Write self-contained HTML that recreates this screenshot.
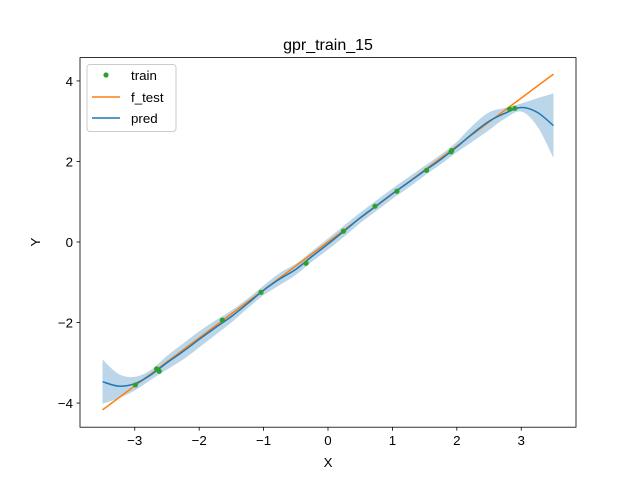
<!DOCTYPE html>
<html><head><meta charset="utf-8"><style>
body{margin:0;background:#fff;}
svg{display:block;font-family:"Liberation Sans","DejaVu Sans",sans-serif;}
</style></head><body>
<svg id="chart" width="640" height="480">
<rect x="0" y="0" width="640" height="480" fill="#fff"/>
<g id="plot"></g>
<rect x="80" y="57.6" width="496" height="369.6" fill="none" stroke="#000" stroke-width="0.8"/>
<g id="ticks"></g>
<text x="328" y="50" text-anchor="middle" font-size="16">gpr_train_15</text>
<text x="328" y="467" text-anchor="middle" font-size="13.3">X</text>
<text x="40" y="242" text-anchor="middle" font-size="13.3" transform="rotate(-90 40 242)">Y</text>
<g>
<rect x="87" y="64.5" width="89" height="67" rx="3" fill="#fff" fill-opacity="0.8" stroke="#ccc" stroke-width="1"/>
<g><circle cx="106" cy="75" r="2.6" fill="#2ca02c"/><text x="131" y="80" font-size="13.3">train</text></g>
<g><line x1="92" y1="97" x2="120" y2="97" stroke="#ff7f0e" stroke-width="1.5"/><text x="131" y="102" font-size="13.3">f_test</text></g>
<g><line x1="92" y1="118" x2="120" y2="118" stroke="#1f77b4" stroke-width="1.5"/><text x="131" y="123" font-size="13.3">pred</text></g>
</g>
</svg>
<script>
const gridX = [-3.5,-3.25,-3.0,-2.75,-2.5,-2.25,-2,-1.75,-1.5,-1.25,-1,-0.75,-0.5,-0.25,0,0.25,0.5,0.75,1,1.25,1.5,1.75,2,2.25,2.5,2.75,3,3.25,3.5];
const predY = [-3.47,-3.58,-3.52,-3.3,-3.0,-2.72,-2.42,-2.13,-1.85,-1.53,-1.2,-0.92,-0.68,-0.36,-0.05,0.27,0.6,0.9,1.2,1.48,1.77,2.05,2.36,2.7,3.0,3.2,3.34,3.22,2.89];
const predStd = [0.55,0.3,0.17,0.12,0.17,0.2,0.2,0.18,0.15,0.12,0.12,0.15,0.14,0.13,0.14,0.14,0.13,0.13,0.13,0.13,0.12,0.12,0.13,0.2,0.22,0.13,0.1,0.35,0.8];
const testX = [-3.5,3.5];
const testY = [-4.17,4.17];
const trainX = [-2.99,-2.66,-2.62,-1.64,-1.04,-0.34,0.24,0.73,1.07,1.53,1.91,1.92,2.82,2.90];
const trainY = [-3.55,-3.15,-3.21,-1.94,-1.25,-0.53,0.27,0.89,1.26,1.78,2.24,2.27,3.30,3.32];
const xTicks = [-3,-2,-1,0,1,2,3];
const yTicks = [-4,-2,0,2,4];
const xMin=-3.85,xMax=3.85,yMin=-4.6,yMax=4.58;
const L=80,R=576,T=57.6,B=427.2;
const sx=v=>L+(v-xMin)/(xMax-xMin)*(R-L);
const sy=v=>B-(v-yMin)/(yMax-yMin)*(B-T);
const NS="http://www.w3.org/2000/svg";
const plot=document.getElementById('plot'), ticks=document.getElementById('ticks');
function mk(tag,attrs,parent){const e=document.createElementNS(NS,tag);for(const k in attrs)e.setAttribute(k,attrs[k]);parent.appendChild(e);return e;}
function smooth(pts,start){let d=start?'M'+pts[0][0]+','+pts[0][1]:'L'+pts[0][0]+','+pts[0][1];
for(let i=0;i<pts.length-1;i++){const p0=pts[Math.max(i-1,0)],p1=pts[i],p2=pts[i+1],p3=pts[Math.min(i+2,pts.length-1)];
const c1=[p1[0]+(p2[0]-p0[0])/6,p1[1]+(p2[1]-p0[1])/6],c2=[p2[0]-(p3[0]-p1[0])/6,p2[1]-(p3[1]-p1[1])/6];
d+=' C'+c1[0]+','+c1[1]+' '+c2[0]+','+c2[1]+' '+p2[0]+','+p2[1];}return d;}
const upP=gridX.map((x,i)=>[sx(x),sy(predY[i]+predStd[i])]);
const dnP=gridX.map((x,i)=>[sx(x),sy(predY[i]-predStd[i])]).reverse();
const band=mk('path',{d:smooth(upP,true)+' '+smooth(dnP,false)+' Z',fill:'#1f77b4','fill-opacity':0.3},plot);


const tl=mk('polyline',{points:testX.map((x,i)=>sx(x)+','+sy(testY[i])).join(' '),fill:'none',stroke:'#ff7f0e','stroke-width':1.5},plot);


const pl=mk('path',{d:smooth(gridX.map((x,i)=>[sx(x),sy(predY[i])]),true),fill:'none',stroke:'#1f77b4','stroke-width':1.5,'stroke-linejoin':'round'},plot);


trainX.forEach((x,i)=>{const c=mk('circle',{cx:sx(x),cy:sy(trainY[i]),r:2.6,fill:'#2ca02c'},plot);

});
xTicks.forEach(v=>{const g=mk('g',{},ticks);


mk('line',{x1:sx(v),x2:sx(v),y1:B,y2:B+3.5,stroke:'#000','stroke-width':0.8},g);
const t=mk('text',{x:sx(v),y:B+18,'text-anchor':'middle','font-size':13.3},g);t.textContent=v<0?'\u2212'+(-v):String(v);});
yTicks.forEach(v=>{const g=mk('g',{},ticks);


mk('line',{x1:L-3.5,x2:L,y1:sy(v),y2:sy(v),stroke:'#000','stroke-width':0.8},g);
const t=mk('text',{x:L-7,y:sy(v)+4.8,'text-anchor':'end','font-size':13.3},g);t.textContent=v<0?'\u2212'+(-v):String(v);});
</script>
</body></html>
